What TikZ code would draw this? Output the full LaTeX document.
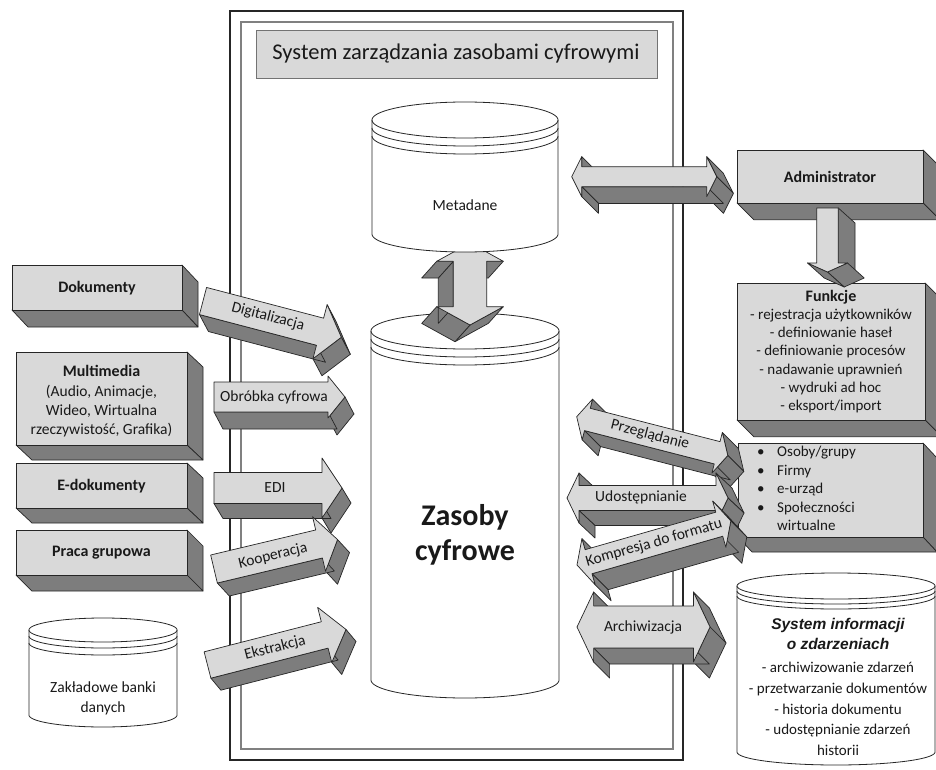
\documentclass[tikz,border=0pt]{standalone}
\usepackage{fontspec}
\setmainfont{Carlito}
\newfontfamily\arialf{Liberation Sans}
\definecolor{lightfc}{RGB}{217,217,217}
\definecolor{darkfc}{RGB}{125,125,125}
\definecolor{txt}{RGB}{25,25,25}
\tikzset{
 sideface/.style={fill=darkfc, draw=black!85, line width=0.7pt, line join=round},
 frontface/.style={fill=lightfc, draw=black!85, line width=0.7pt, line join=round},
 canbody/.style={fill=white, draw=black!85, line width=0.8pt},
 canline/.style={draw=black!85, line width=0.8pt},
 lbl/.style={text=txt, inner sep=0pt, font=\fontsize{15.5}{18}\selectfont},
 blbl/.style={text=txt, inner sep=0pt, font=\bfseries\fontsize{16}{19}\selectfont},
}
\makeatletter
\newcommand\solid[6]{%
  \foreach \uu/\vv [count=\ii] in {#4} {%
    \pgfmathsetmacro\XX{#1+(\uu)*cos(#3)-(\vv)*sin(#3)}%
    \pgfmathsetmacro\YY{#2+(\uu)*sin(#3)+(\vv)*cos(#3)}%
    \expandafter\xdef\csname sol@x\ii\endcsname{\XX}%
    \expandafter\xdef\csname sol@y\ii\endcsname{\YY}%
    \coordinate (sol\ii) at (\XX,\YY);%
    \xdef\sol@n{\ii}%
  }%
  \foreach \ii in {1,...,\sol@n} {%
    \pgfmathtruncatemacro\jj{mod(\ii,\sol@n)+1}%
    \edef\ax{\csname sol@x\ii\endcsname}\edef\ay{\csname sol@y\ii\endcsname}%
    \edef\bx{\csname sol@x\jj\endcsname}\edef\by{\csname sol@y\jj\endcsname}%
    \pgfmathsetmacro\vis{(\by-\ay)*(#5)-(\bx-\ax)*(#6)}%
    \ifdim\vis pt>0.01pt
      \filldraw[sideface] (\ax,\ay) -- (\bx,\by) -- (\bx+#5,\by+#6) -- (\ax+#5,\ay+#6) -- cycle;
    \fi
  }%
  \filldraw[frontface] (sol1) \foreach \ii in {2,...,\sol@n} { -- (sol\ii) } -- cycle;
}
\makeatother
% single arrow: x0,y0 (tail centre), angle, w, L, h, H, dx, dy
\newcommand\sarrow[9]{\solid{#1}{#2}{#3}{0/-#4, #5/-#4, #5/-#6, #5+#7/0, #5/#6, #5/#4, 0/#4}{#8}{#9}}
% double arrow: x0,y0 (left tip), angle, T, w, h, H, dx, dy
\newcommand\darrow[9]{\solid{#1}{#2}{#3}{0/0, #7/-#6, #7/-#5, #4-#7/-#5, #4-#7/-#6, #4/0, #4-#7/#6, #4-#7/#5, #7/#5, #7/#6}{#8}{#9}}
% box: x0,y0 top-left, W, H, dx, dy
\newcommand\boxsolid[6]{\solid{#1}{#2}{0}{0/0, #3/0, #3/#4, 0/#4}{#5}{#6}}
% can: cx, a, ytop, ry, ybot, off1, off2
\newcommand\can[7]{%
 \filldraw[canbody] plot[domain=180:0,samples=61] ({#1+#2*cos(\x)},{#3-#4*sin(\x)}) -- plot[domain=0:180,samples=61] ({#1+#2*cos(\x)},{#5+#4*sin(\x)}) -- cycle;
 \draw[canline] plot[domain=0:180,samples=61] ({#1+#2*cos(\x)},{#3+#4*sin(\x)});
 \draw[canline] plot[domain=0:180,samples=61] ({#1+#2*cos(\x)},{#3+#6+#4*sin(\x)});
 \draw[canline] plot[domain=0:180,samples=61] ({#1+#2*cos(\x)},{#3+#7+#4*sin(\x)});
}
\begin{document}
\begin{tikzpicture}[x=1pt,y=-1pt]
\useasboundingbox (0,0) rectangle (936,770);
\fill[white] (0,0) rectangle (936,770);
% frames
\draw[black!85, line width=1.1pt] (230,11) rectangle (683,760);
\draw[black!50, line width=1.1pt] (241,22) rectangle (673,749);
\draw[fill=lightfc, draw=black!55, line width=0.9pt] (256,30) rectangle (657,78);
\node[text=txt, inner sep=0pt, font=\fontsize{22.5}{26}\selectfont] (title) at (456,54) {System zarządzania zasobami cyfrowymi};
% central cylinders and vertical arrow
\can{465}{94}{331}{18}{680}{8}{16}
\darrow{470}{243}{90}{82}{16.7}{33.3}{18.3}{-15}{16.7}
\can{465}{93}{120}{18}{234}{8}{16}
\node[lbl] (meta) at (465,205) {Metadane};
\node[text=txt, inner sep=0pt, align=center, font=\bfseries\fontsize{30}{35}\selectfont] (zas) at (465,535) {Zasoby\\cyfrowe};
% left boxes
\boxsolid{12}{265}{170}{45}{16}{17}
\boxsolid{16}{352}{171}{93}{16}{15}
\boxsolid{16}{463}{171}{45}{16}{15}
\boxsolid{16}{530}{171}{45}{16}{16}
\node[blbl] (dok) at (97,288) {Dokumenty};
\node[blbl] (mm1) at (101.5,371) {Multimedia};
\node[lbl] (mm2) at (101.5,392) {(Audio, Animacje,};
\node[lbl] (mm3) at (101.5,411) {Wideo, Wirtualna};
\node[lbl] (mm4) at (101.5,430) {rzeczywistość, Grafika)};
\node[blbl] (edok) at (101.5,486) {E-dokumenty};
\node[blbl] (praca) at (101.5,553) {Praca grupowa};
% right boxes
\boxsolid{737}{150}{186}{53}{16.7}{16.7}
\boxsolid{737}{283}{188}{137}{16.7}{16.7}
\boxsolid{738}{443}{185}{94}{14}{15}
\node[blbl] (admin) at (830,177) {Administrator};
\node[blbl] (funk) at (831,297) {Funkcje};
\node[lbl, align=center, font=\fontsize{15}{18.3}\selectfont] (funklist) at (831,361) {- rejestracja użytkowników\\- definiowanie haseł\\- definiowanie procesów\\- nadawanie uprawnień\\- wydruki ad hoc\\- eksport/import};
\node[lbl, anchor=north west, align=left, font=\fontsize{15}{18.5}\selectfont] (osoby) at (757,446) {\makebox[20pt][l]{\textbullet}Osoby/grupy\\\makebox[20pt][l]{\textbullet}Firmy\\\makebox[20pt][l]{\textbullet}e-urząd\\\makebox[20pt][l]{\textbullet}Społeczności\\\makebox[20pt][l]{}wirtualne};
% left arrows
\sarrow{203}{301}{14.7}{14}{121}{28}{22}{9}{17}
\sarrow{214}{397}{0}{15}{114}{21}{17}{9}{17}
\sarrow{214}{488}{0}{15.5}{108}{30}{20}{9}{15}
\sarrow{214}{569}{-13.4}{14.4}{108}{28}{19}{12}{13}
\sarrow{207.5}{665}{-14.4}{13.6}{121}{28.5}{22}{10}{12}
\node[lbl, rotate=-14.7] (digi) at (268,317) {Digitalizacja};
\node[lbl] (obr) at (274,397) {Obróbka cyfrowa};
\node[lbl] (edi) at (275,488) {EDI};
\node[lbl, rotate=13.4] (koop) at (273,556) {Kooperacja};
\node[lbl, rotate=14.4] (ekst) at (275,648) {Ekstrakcja};
% right arrows
\darrow{571.7}{176.7}{0}{145}{10}{20}{10}{16.7}{16.7}
\sarrow{827.5}{208}{90}{10.8}{55}{20}{9}{16.7}{15}
\darrow{576.7}{416.7}{14.4}{156}{11.5}{21}{11}{16}{16}
\darrow{567}{498}{0}{161}{12.5}{25}{12}{16}{15}
\darrow{577}{565}{-16}{160}{12.5}{24}{12}{16}{16}
\darrow{577}{627}{0}{133}{21}{35}{16.6}{16}{16}
\node[lbl, rotate=-14.4] (przeg) at (650,435) {Przeglądanie};
\node[lbl] (udost) at (641,497) {Udostępnianie};
\node[lbl, rotate=16] (kompr) at (654,543) {Kompresja do formatu};
\node[lbl] (arch) at (643,627) {Archiwizacja};
% other cylinders
\can{103}{74}{630}{12}{715}{6}{13}
\node[lbl, align=center, font=\fontsize{15.5}{20}\selectfont] (zakl) at (103,698) {Zakładowe banki\\danych};
\can{836}{99}{586}{13}{752}{5}{10}
\node[text=txt, inner sep=0pt, align=center, font=\arialf\bfseries\itshape\fontsize{15.5}{20.5}\selectfont] (sysinf) at (838,634) {System informacji\\o zdarzeniach};
\node[lbl, align=center, font=\fontsize{15}{20.6}\selectfont] (syslist) at (838,709) {- archiwizowanie zdarzeń\\- przetwarzanie dokumentów\\- historia dokumentu\\- udostępnianie zdarzeń\\historii};
\end{tikzpicture}
\end{document}
